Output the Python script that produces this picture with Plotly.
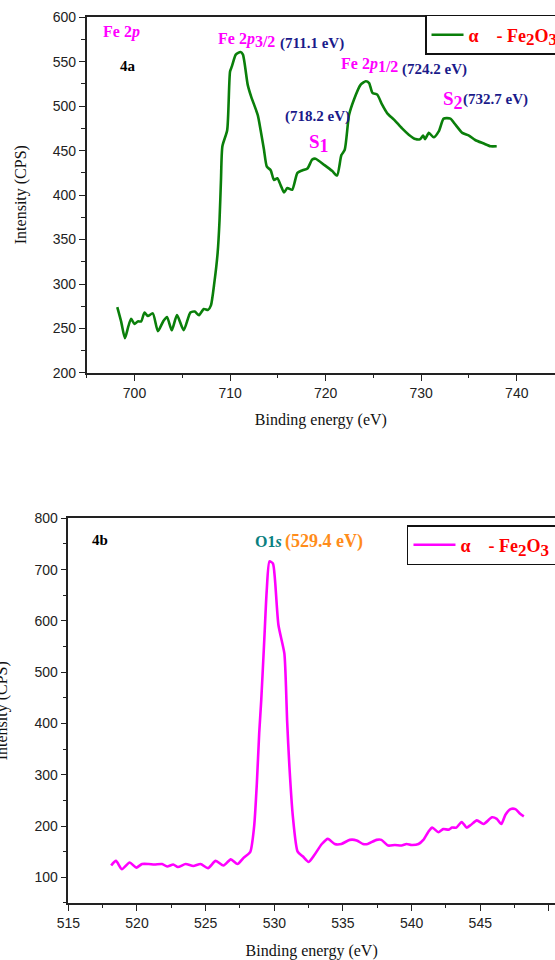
import plotly.graph_objects as go

# ---- Fe 2p core-level spectrum (alpha-Fe2O3) ----
fe_energy = [698.2, 698.6, 699.0, 699.35, 699.65, 700.0, 700.35, 700.7, 701.05, 701.4,
             701.92, 702.45, 703.0, 703.4, 703.9, 704.45, 705.15, 705.85, 706.3, 706.75,
             707.25, 707.7, 708.0, 708.35, 708.7, 708.9, 709.05, 709.2, 709.7, 710.0,
             710.2, 710.6, 711.1, 711.35, 711.85, 712.2, 712.9, 713.2, 713.55, 713.85,
             714.25, 714.6, 714.95, 715.3, 715.65, 716.0, 716.5, 717.05, 717.6, 718.1,
             718.6, 718.95, 719.85, 720.7, 721.2, 721.65, 722.0, 722.45, 722.95, 723.65,
             724.2, 724.55, 724.9, 725.4, 725.9, 726.45, 727.15, 728.0, 728.7, 729.4,
             729.9, 730.2, 730.4, 730.8, 731.3, 731.85, 732.35, 733.05, 733.6, 734.3,
             735.0, 735.65, 736.55, 737.25, 737.9]
fe_counts = [274, 258, 239, 252, 261, 255, 258, 258, 268, 264,
             267, 247, 258, 263, 248, 265, 248, 268, 269, 265,
             272, 271, 276, 301, 335, 372, 417, 455, 473, 539,
             545, 558, 561, 558, 524, 511, 490, 473, 451, 432,
             428, 417, 419, 411, 403, 408, 406, 425, 428, 430,
             440, 441, 434, 427, 422, 445, 451, 490, 507, 524,
             528, 526, 515, 513, 502, 492, 485, 475, 468, 463,
             463, 467, 463, 470, 465, 472, 486, 486, 479, 470,
             467, 462, 458, 455, 455]

# ---- O 1s core-level spectrum (alpha-Fe2O3) ----
o_energy = [518.12, 518.47, 518.9, 519.46, 519.95, 520.37, 520.85, 521.27, 521.83, 522.2,
            522.64, 522.98, 523.54, 524.1, 524.63, 525.17, 525.73, 526.3, 526.83, 527.32,
            527.76, 528.24, 528.53, 528.73, 528.9, 529.05, 529.27, 529.45, 529.65, 529.9,
            530.05, 530.3, 530.73, 530.85, 530.93, 531.1, 531.35, 531.7, 532.07, 532.5,
            532.93, 533.46, 533.9, 534.4, 534.88, 535.49, 536.0, 536.46, 536.8, 537.44,
            537.8, 538.29, 538.78, 539.27, 539.63, 540.0, 540.5, 540.85, 541.22, 541.5,
            541.95, 542.3, 542.7, 542.95, 543.25, 543.65, 544.0, 544.3, 544.75, 545.24,
            545.85, 546.2, 546.53, 546.83, 547.2, 547.56, 547.9, 548.17]
o_counts = [123, 132, 116, 129, 119, 126, 126, 125, 126, 121,
            125, 120, 126, 122, 126, 118, 132, 123, 135, 126,
            138, 149, 199, 284, 381, 446, 563, 660, 716, 712,
            680, 592, 537, 472, 407, 316, 219, 150, 141, 130,
            144, 165, 175, 165, 165, 173, 172, 165, 165, 173,
            173, 162, 163, 162, 165, 163, 165, 173, 189, 197,
            188, 194, 193, 197, 197, 208, 197, 202, 211, 204,
            217, 214, 204, 222, 233, 233, 224, 219]

fe_xticks = [700, 710, 720, 730, 740]
o_xticks = [515, 520, 525, 530, 535, 540, 545, 550]

series_name = ("<b>α\u00a0\u00a0\u00a0\u00a0- Fe<sub><span style='font-size:17px'>2</span></sub>"
               "O<sub><span style='font-size:17px'>3</span></sub></b>\u00a0\u00a0\u00a0")

SERIF = "Liberation Serif, Times New Roman, serif"
SANS = "Liberation Sans, Arial, sans-serif"
AXIS_COLOR = "#222222"

fig = go.Figure()

fig.add_trace(go.Scatter(
    x=fe_energy, y=fe_counts, mode="lines", name=series_name,
    line=dict(color="#0a7f0a", width=2.6, shape="spline", smoothing=0.6),
    xaxis="x", yaxis="y", legend="legend",
))
fig.add_trace(go.Scatter(
    x=o_energy, y=o_counts, mode="lines", name=series_name,
    line=dict(color="#ff00ff", width=2.6, shape="spline", smoothing=0.6),
    xaxis="x2", yaxis="y2", legend="legend2",
))

axis_common = dict(
    showgrid=False, zeroline=False, showline=True, linewidth=1.5,
    linecolor=AXIS_COLOR, ticks="outside", ticklen=6, tickwidth=1.3,
    tickcolor=AXIS_COLOR, tickfont=dict(family=SANS, size=14, color=AXIS_COLOR),
)
title_font = dict(family=SERIF, size=16, color="#111111")
legend_font = dict(family=SERIF, size=18, color="#ff0000")

top_y_domain = [0.6115, 0.982]
bottom_y_domain = [0.0594, 0.4601]

fig.update_layout(
    width=555, height=960,
    margin=dict(l=0, r=0, t=0, b=0, autoexpand=False),
    paper_bgcolor="white", plot_bgcolor="white",
    xaxis=dict(**axis_common, domain=[0.1562, 1.0], anchor="y", range=[695, 744.0],
               tickvals=fe_xticks, mirror=True,
               minor=dict(dtick=5, tick0=695, ticklen=3.5, ticks="outside", tickcolor=AXIS_COLOR),
               title=dict(text="Binding energy (eV)", font=title_font, standoff=14)),
    yaxis=dict(**axis_common, domain=top_y_domain, anchor="x", range=[200, 600],
               dtick=50, mirror=False,
               minor=dict(dtick=25, ticklen=3.5, ticks="outside", tickcolor=AXIS_COLOR)),
    xaxis2=dict(**axis_common, domain=[0.1231, 1.0], anchor="y2", range=[515, 550.44],
                tickvals=o_xticks, mirror=True,
                minor=dict(dtick=2.5, tick0=515, ticklen=3.5, ticks="outside", tickcolor=AXIS_COLOR),
                title=dict(text="Binding energy (eV)", font=title_font, standoff=18)),
    yaxis2=dict(**axis_common, domain=bottom_y_domain, anchor="x2", range=[50, 800],
                dtick=100, tick0=0, mirror=False,
                minor=dict(dtick=50, ticklen=3.5, ticks="outside", tickcolor=AXIS_COLOR)),
    legend=dict(x=0.7658, y=0.9844, xanchor="left", yanchor="top",
                bgcolor="white", bordercolor="#111111", borderwidth=1.5,
                itemwidth=32, tracegroupgap=0, font=legend_font),
    legend2=dict(x=0.7333, y=0.4531, xanchor="left", yanchor="top",
                 bgcolor="white", bordercolor="#111111", borderwidth=1.5,
                 itemwidth=42, tracegroupgap=0, font=legend_font),
    showlegend=True,
)

# vertical intensity titles, placed in paper space so they may run past the left edge
for y_dom, x_pos in ((top_y_domain, 0.038), (bottom_y_domain, 0.003)):
    fig.add_annotation(text="Intensity (CPS)", textangle=-90, showarrow=False,
                       xref="paper", yref="paper", x=x_pos, y=sum(y_dom) / 2,
                       xanchor="center", yanchor="middle", font=title_font)

MAGENTA = "#ff00ff"
NAVY = "#1a1a8a"


def note(text, x, y, xref, yref, color, size=15):
    fig.add_annotation(text=f"<b>{text}</b>", x=x, y=y, xref=xref, yref=yref, xanchor="left",
                       yanchor="middle", showarrow=False,
                       font=dict(family=SERIF, size=size, color=color))


def sub_full(s, size=16):
    return f"<sub><span style='font-size:{size}px'>{s}</span></sub>"


# Fe 2p panel labels
note("Fe 2<i>p</i>", 696.5, 584, "x", "y", MAGENTA, 16)
note("4a", 698.3, 545, "x", "y", "#000000", 15)
note("Fe 2<i>p</i>" + sub_full("3/2"), 708.5, 574, "x", "y", MAGENTA, 16)
note("(711.1 eV)", 715.0, 570.5, "x", "y", NAVY, 15)
note("Fe 2<i>p</i>" + sub_full("1/2"), 721.4, 546, "x", "y", MAGENTA, 16)
note("(724.2 eV)", 727.8, 541, "x", "y", NAVY, 15)
note("(718.2 eV)", 715.5, 488, "x", "y", NAVY, 15)
note("S" + sub_full("1", 18), 718.1, 458, "x", "y", MAGENTA, 19)
note("S" + sub_full("2", 18), 732.1, 506, "x", "y", MAGENTA, 19)
note("(732.7 eV)", 734.2, 507.5, "x", "y", NAVY, 15)

# O 1s panel labels
note("4b", 516.6, 758, "x2", "y2", "#000000", 15)
note("O1<i>s</i>", 528.45, 755, "x2", "y2", "#0a8080", 16)
note("(529.4 eV)", 530.6, 755, "x2", "y2", "#ff8c1a", 18)

fig.write_html("out.html")
